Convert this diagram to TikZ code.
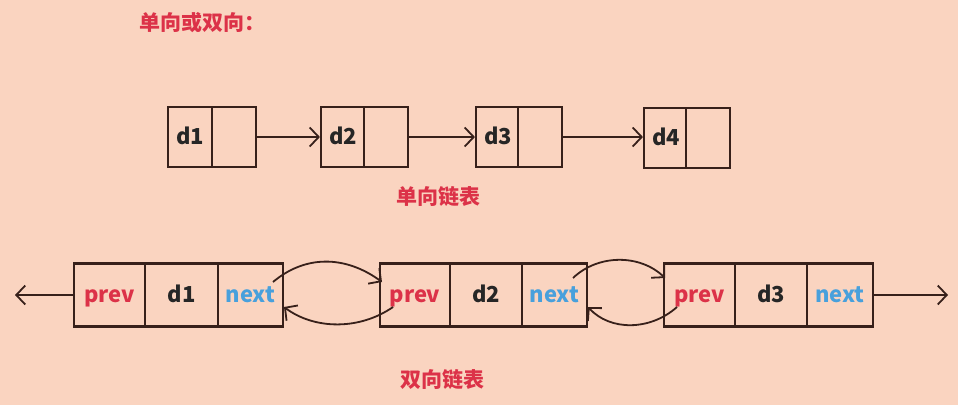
\documentclass[tikz,border=0pt]{standalone}
\usepackage{fontspec}
\setmainfont{Noto Sans CJK SC}
\newfontfamily\cjk{Noto Sans CJK SC}
\usetikzlibrary{arrows.meta}
\definecolor{bg}{RGB}{250,212,192}
\definecolor{redtxt}{RGB}{220,50,72}
\definecolor{bluetxt}{RGB}{72,160,220}
\definecolor{ln}{RGB}{55,32,26}
\tikzset{
  cell/.style={draw=ln, line width=2.1pt, fill=bg, minimum height=60pt, minimum width=44pt, inner sep=0pt, font=\cjk\fontsize{22}{24}\selectfont\bfseries, text=black!85, text depth=0pt, text height=15pt},
  bcell/.style={cell, minimum height=63pt},
  arr/.style={draw=ln, line width=1.8pt, -{Straight Barb[length=9pt,width=19pt,line width=1.8pt]}},
  title/.style={font=\cjk\fontsize{21}{23}\selectfont\bfseries, text=redtxt, inner sep=0pt},
  pv/.style={text=redtxt},
  nx/.style={text=bluetxt}
}
\begin{document}
\begin{tikzpicture}[x=1pt,y=-1pt]
\fill[bg] (0,0) rectangle (958,405);
\useasboundingbox (0,0) rectangle (958,405);
\node[title] (t0) at (202,23) {单向或双向：};
\node[title] (t1) at (438,197) {单向链表};
\node[title] (t2) at (442,380) {双向链表};
% singly linked list
\node[cell] (s1a) at (190,137) {d1};
\node[cell] (s1b) at (234,137) {};
\node[cell] (s2a) at (343,137) {d2};
\node[cell] (s2b) at (386,137) {};
\node[cell] (s3a) at (498,137) {d3};
\node[cell] (s3b) at (540,137) {};
\node[cell] (s4a) at (666,138) {d4};
\node[cell] (s4b) at (708,138) {};
\draw[arr] (s1b.east) -- (s2a.west);
\draw[arr] (s2b.east) -- (s3a.west);
\draw[arr] (s3b.east) -- (s4a.west |- s3b.east);
% doubly linked list
\node[bcell, minimum width=71pt, pv] (b1p) at (109.5,295) {prev};
\node[bcell, minimum width=73pt] (b1d) at (181.5,295) {d1};
\node[bcell, minimum width=65pt, nx] (b1n) at (250.5,295) {next};
\node[bcell, minimum width=70pt, pv] (b2p) at (415,295) {prev};
\node[bcell, minimum width=72pt] (b2d) at (486,295) {d2};
\node[bcell, minimum width=65pt, nx] (b2n) at (554.5,295) {next};
\node[bcell, minimum width=71pt, pv] (b3p) at (699.5,295) {prev};
\node[bcell, minimum width=72pt] (b3d) at (771,295) {d3};
\node[bcell, minimum width=66pt, nx] (b3n) at (840,295) {next};
\coordinate (lend) at (15,295);
\coordinate (rend) at (948,295);
\draw[arr] (b1p.west) -- (lend);
\draw[arr] (b3n.east) -- (rend);
% curved links
\coordinate (u1s) at (273,282);
\coordinate (u1e) at (382,282);
\coordinate (l1s) at (393,307);
\coordinate (l1e) at (284,307);
\coordinate (u2s) at (573,278);
\coordinate (u2e) at (665,278);
\coordinate (l2s) at (677,307);
\coordinate (l2e) at (588,307);
\draw[arr] (u1s) .. controls (305,255) and (345,255) .. (u1e);
\draw[arr] (l1s) .. controls (360,330) and (315,330) .. (l1e);
\draw[arr] (u2s) .. controls (598,254) and (640,254) .. (u2e);
\draw[arr] (l2s) .. controls (650,331) and (610,331) .. (l2e);
\end{tikzpicture}
\end{document}
